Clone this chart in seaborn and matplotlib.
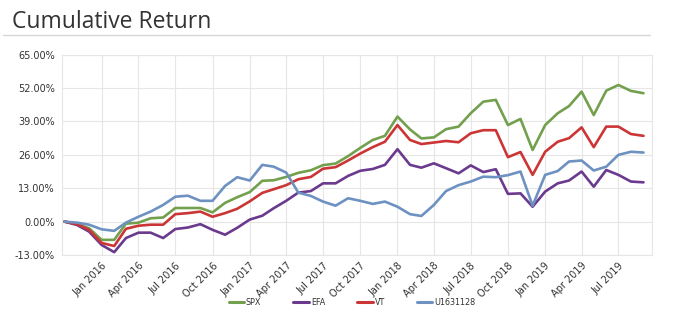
import matplotlib
matplotlib.use("Agg")
import matplotlib.pyplot as plt
import matplotlib.dates as mdates
from matplotlib.lines import Line2D
from matplotlib.ticker import FuncFormatter, FixedLocator
import seaborn as sns
import pandas as pd
import numpy as np

# ---- data (month-start dates, cumulative return in %) ----
dates = pd.date_range("2015-10-01", "2019-09-01", freq="MS")

spx = [0, -0.9, -2.6, -7.1, -7.1, -0.8, -0.4, 1.3, 1.6, 5.3, 5.3, 5.3,
       3.6, 7.3, 9.5, 11.5, 15.9, 16.1, 17.4, 19.0, 20.0, 22.0, 22.6, 25.5,
       28.7, 31.8, 33.4, 40.9, 35.9, 32.4, 32.8, 36.0, 37.0, 42.2, 46.7, 47.4,
       37.6, 40.0, 27.9, 37.6, 42.2, 45.0, 50.6, 41.5, 51.0, 53.2, 50.9, 50.0]
efa = [0, -1.3, -3.9, -9.1, -11.9, -6.4, -4.3, -4.3, -6.4, -2.9, -2.3, -1.0,
       -3.2, -5.1, -2.4, 0.8, 2.3, 5.2, 8.1, 11.3, 11.9, 14.9, 14.9, 17.8,
       19.8, 20.5, 22.1, 28.2, 22.1, 21.0, 22.7, 20.8, 18.8, 21.9, 19.3, 20.4,
       10.8, 11.0, 5.8, 11.7, 14.9, 16.0, 19.5, 13.6, 20.1, 18.2, 15.6, 15.3]
vt = [0, -1.0, -3.2, -8.3, -9.5, -2.8, -1.6, -1.2, -1.2, 2.9, 3.3, 3.9,
      1.9, 3.3, 5.0, 7.9, 11.2, 12.6, 14.2, 16.5, 17.4, 20.6, 21.2, 23.8,
      26.5, 29.0, 31.1, 37.6, 31.8, 30.2, 30.8, 31.4, 30.9, 34.4, 35.6, 35.6,
      25.1, 27.1, 18.2, 27.2, 31.1, 32.5, 36.7, 29.0, 37.0, 37.0, 34.1, 33.4]
u1631128 = [0, -0.4, -1.2, -3.0, -3.6, -0.4, 1.9, 3.9, 6.5, 9.7, 10.1, 8.1,
            8.1, 13.9, 17.3, 16.0, 22.1, 21.4, 19.1, 11.3, 10.0, 7.8, 6.2, 9.1,
            8.1, 6.9, 7.8, 5.8, 2.9, 2.2, 6.5, 11.9, 14.2, 15.6, 17.5, 17.3,
            18.1, 19.5, 6.2, 18.2, 19.7, 23.4, 23.8, 19.9, 21.4, 26.0, 27.2, 26.9]

series_names = ["SPX", "EFA", "VT", "U1631128"]
series_values = [spx, efa, vt, u1631128]
colors = ["#72a04d", "#6b3a8e", "#cc3535", "#6d91c0"]
yticks = [-13, 0, 13, 26, 39, 52, 65]

df = pd.concat([pd.DataFrame({"date": dates, "ret": v, "series": n})
                for n, v in zip(series_names, series_values)], ignore_index=True)

# ---- figure ----
sns.set_style("whitegrid")
plt.rcParams["font.family"] = ["DejaVu Sans"]

fig = plt.figure(figsize=(6.88, 3.25), dpi=100)
ax = fig.add_axes([62 / 688, 1 - 255 / 325, (652 - 62) / 688, (255 - 54.7) / 325])

sns.lineplot(data=df, x="date", y="ret", hue="series", hue_order=series_names,
             palette=colors, linewidth=1.9, ax=ax, legend=False)

grid_c = "#e6e6e6"
ax.set_ylim(-13, 65)
ax.yaxis.set_major_locator(FixedLocator(yticks))
ax.yaxis.set_major_formatter(FuncFormatter(lambda v, p: f"{v:.2f}%"))
ax.set_xlim(pd.Timestamp("2015-09-25"), pd.Timestamp("2019-09-22"))
ax.xaxis.set_major_locator(mdates.MonthLocator(bymonth=[1, 4, 7, 10]))
ax.xaxis.set_major_formatter(mdates.DateFormatter("%b %Y"))
# drop Oct 2015 tick if inside range
ticks = [t for t in ax.get_xticks() if t >= mdates.date2num(pd.Timestamp("2016-01-01"))]
ax.set_xticks(ticks)
ax.xaxis.set_major_formatter(mdates.DateFormatter("%b %Y"))

ax.grid(True, color=grid_c, linewidth=0.8)
for s in ax.spines.values():
    s.set_color(grid_c)
    s.set_linewidth(0.8)
ax.tick_params(axis="both", length=0, colors="#333333", labelsize=7)
ax.tick_params(axis="y", pad=5)
ax.tick_params(axis="x", pad=4)
for lab in ax.get_xticklabels():
    lab.set_rotation(45)
    lab.set_ha("right")
    lab.set_va("top")
    lab.set_rotation_mode("anchor")
ax.set_xlabel("")
ax.set_ylabel("")

# title and separator
fig.text(12.5 / 688, 1 - 28.3 / 325, "Cumulative Return", fontsize=16.5,
         family=["Open Sans", "DejaVu Sans"], color="#333333", va="baseline", ha="left")
fig.add_artist(Line2D([0.004, 0.945], [1 - 34.5 / 325, 1 - 34.5 / 325],
                      transform=fig.transFigure, color="#d5d5d5", linewidth=1))

# legend
handles = [Line2D([], [], color=c, linewidth=2.2) for c in colors]
fig.legend(handles, series_names, loc="center", bbox_to_anchor=(352 / 688, 1 - 302.5 / 325),
           ncol=4, frameon=False, fontsize=5.8, handlelength=1.9, handletextpad=0.25,
           columnspacing=4.0, labelcolor="#333333")

fig.savefig("out.png", dpi=100, facecolor="white")
